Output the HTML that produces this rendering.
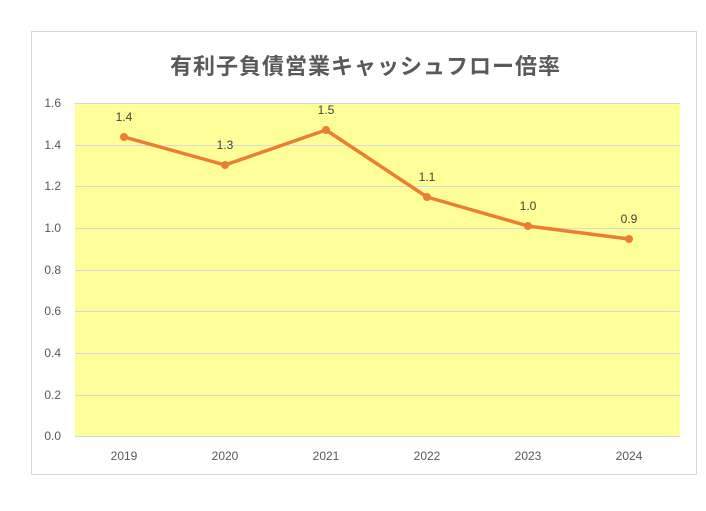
<!DOCTYPE html>
<html><head><meta charset="utf-8"><style>
body{margin:0;background:#fff;width:706px;height:506px;overflow:hidden}
svg text{font-family:"Liberation Sans","Noto Sans CJK JP",sans-serif}
</style></head><body>
<svg width="706" height="506" viewBox="0 0 706 506">
<rect x="31.5" y="31.5" width="665" height="443" fill="#fff" stroke="#d9d9d9"/>
<text x="365" y="74" text-anchor="middle" font-size="22" font-weight="bold" fill="#595959" textLength="390" style="font-family:'Noto Sans CJK JP',sans-serif">有利子負債営業キャッシュフロー倍率</text>
<rect x="75" y="103" width="605" height="333" fill="#ffff99"/>
<g stroke="#d9d9d9" stroke-width="1">
<line x1="75" x2="680" y1="103.5" y2="103.5"/>
<line x1="75" x2="680" y1="145.5" y2="145.5"/>
<line x1="75" x2="680" y1="186.5" y2="186.5"/>
<line x1="75" x2="680" y1="228.5" y2="228.5"/>
<line x1="75" x2="680" y1="270.5" y2="270.5"/>
<line x1="75" x2="680" y1="311.5" y2="311.5"/>
<line x1="75" x2="680" y1="353.5" y2="353.5"/>
<line x1="75" x2="680" y1="395.5" y2="395.5"/>
<line x1="75" x2="680" y1="436.5" y2="436.5"/>
</g>
<g font-size="12" fill="#595959" text-anchor="end">
<text x="61" y="107">1.6</text><text x="61" y="149">1.4</text><text x="61" y="190">1.2</text>
<text x="61" y="232">1.0</text><text x="61" y="274">0.8</text><text x="61" y="315">0.6</text>
<text x="61" y="357">0.4</text><text x="61" y="399">0.2</text><text x="61" y="440">0.0</text>
</g>
<g font-size="12" fill="#595959" text-anchor="middle">
<text x="124" y="460">2019</text><text x="225" y="460">2020</text><text x="326" y="460">2021</text>
<text x="427" y="460">2022</text><text x="528" y="460">2023</text><text x="629" y="460">2024</text>
</g>
<polyline points="124,137 225,165 326,130 427,197 528,226 629,239" fill="none" stroke="#ed7d31" stroke-width="3.5" stroke-linejoin="round"/>
<g fill="#ed7d31">
<circle cx="124" cy="137" r="4"/><circle cx="225" cy="165" r="4"/><circle cx="326" cy="130" r="4"/>
<circle cx="427" cy="197" r="4"/><circle cx="528" cy="226" r="4"/><circle cx="629" cy="239" r="4"/>
</g>
<g font-size="12" fill="#404040" text-anchor="middle">
<text x="124" y="121">1.4</text><text x="225" y="149">1.3</text><text x="326" y="114">1.5</text>
<text x="427" y="181">1.1</text><text x="528" y="210">1.0</text><text x="629" y="223">0.9</text>
</g>
</svg>
</body></html>
